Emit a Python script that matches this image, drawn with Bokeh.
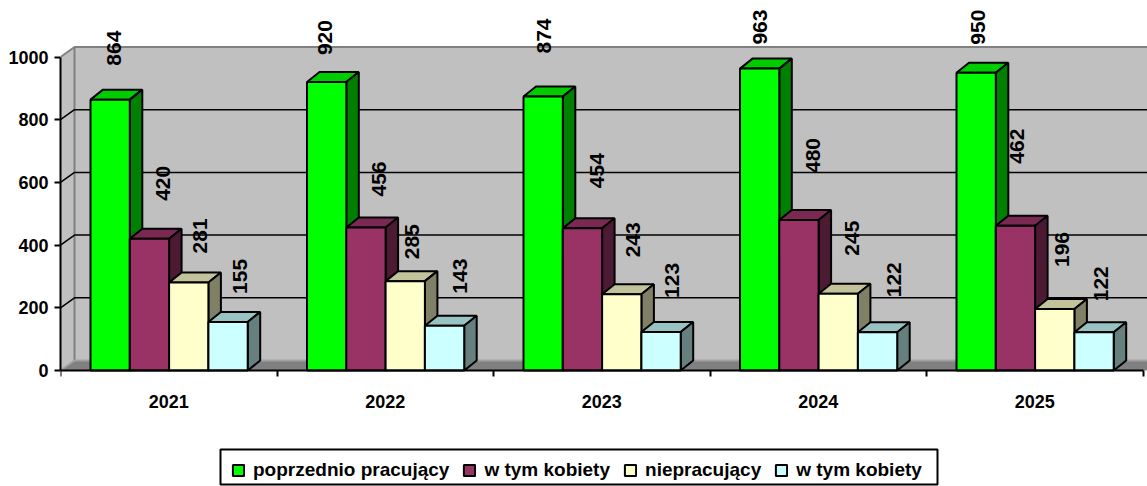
from bokeh.plotting import figure
from bokeh.models import Range1d, FixedTicker, Legend, LegendItem, ColumnDataSource
from bokeh.core.properties import value
from bokeh.embed import file_html
from bokeh.resources import INLINE
import math

years = ["2021", "2022", "2023", "2024", "2025"]
names = ["poprzednio pracujący", "w tym kobiety", "niepracujący", "w tym kobiety"]
poprzednio = [864, 920, 874, 963, 950]
kobiety_p = [420, 456, 454, 480, 462]
niepracujacy = [281, 285, 243, 245, 196]
kobiety_n = [155, 143, 123, 122, 122]
series = [poprzednio, kobiety_p, niepracujacy, kobiety_n]
yticks = [0, 200, 400, 600, 800, 1000]

fronts = ["#00FF00", "#993366", "#FFFFCC", "#CCFFFF"]
tops = ["#00CC00", "#7A2952", "#C2C29B", "#99C2C2"]
sides = ["#008000", "#4D1A33", "#808066", "#668080"]

# label nudges in screen pixels from each bar's top centre
label_dx = [[4, -1.5, 1, 0.5, 2], [14, 13.5, 15, 14.5, 2], [11, 6.5, 11, 13.5, 7], [12, 15.5, 11, 16.5, 7]]
label_gap = [[34, 27, 43, 24, 28], [38, 31, 40, 47, 62], [29, 22, 37, 38, 42], [28, 32, 34, 35, 31]]

PX_X = 216.5          # pixels per category
PX_Y = 0.3135         # pixels per value unit
WIDTH, HEIGHT = 1147, 486
LEFT, ZERO_Y = 60, 370
x_end = (WIDTH - LEFT) / PX_X
y_end = ZERO_Y / PX_Y
y_start = -(HEIGHT - ZERO_Y) / PX_Y

wall_dx, wall_dy = 14 / PX_X, 10 / PX_Y
bar_dx, bar_dy = 12.5 / PX_X, 10 / PX_Y
bar_w = 39.3 / PX_X
group_start = 30.0 / PX_X

p = figure(width=WIDTH, height=HEIGHT, output_backend="svg", toolbar_location=None,
           x_range=Range1d(0, x_end), y_range=Range1d(y_start, y_end),
           min_border_left=LEFT, min_border_right=0, min_border_top=0, min_border_bottom=0,
           outline_line_color=None, background_fill_color="white", border_fill_color="white")
p.grid.visible = False

# walls and floor
n = len(years)
p.patch([wall_dx, x_end, x_end, wall_dx],
        [wall_dy, wall_dy, yticks[-1] + wall_dy, yticks[-1] + wall_dy], fill_color="#C0C0C0", line_color=None)
p.patch([0, wall_dx, wall_dx, 0], [0, wall_dy, yticks[-1] + wall_dy, yticks[-1]], fill_color="#C0C0C0", line_color=None)
p.patch([0, wall_dx, x_end, x_end, n], [0, wall_dy, wall_dy, 0, 0], fill_color="#808080", line_color=None)
p.line([0, wall_dx, x_end], [yticks[-1], yticks[-1] + wall_dy, yticks[-1] + wall_dy], line_color="#808080", line_width=2)
p.line([wall_dx, wall_dx], [wall_dy, yticks[-1] + wall_dy], line_color="#808080", line_width=2)
p.line([0, wall_dx, x_end], [0, wall_dy, wall_dy], line_color="#A0A0A0", line_width=2)
mids = yticks[1:-1]
p.multi_line([[0, wall_dx, x_end] for _ in mids], [[v, v + wall_dy, v + wall_dy] for v in mids],
             line_color="black", line_width=1.5)

# bars
fronts_r = []
for s, vals in enumerate(series):
    lefts = [i + group_start + s * bar_w for i in range(n)]
    rights = [l + bar_w for l in lefts]
    p.patches([[l, r, r + bar_dx, l + bar_dx] for l, r in zip(lefts, rights)],
              [[v, v, v + bar_dy, v + bar_dy] for v in vals],
              fill_color=tops[s], line_color="black", line_width=2)
    p.patches([[r, r + bar_dx, r + bar_dx, r] for r in rights],
              [[0, bar_dy, v + bar_dy, v] for v in vals],
              fill_color=sides[s], line_color="black", line_width=2)
    fronts_r.append(p.quad(left=lefts, right=rights, bottom=0, top=vals,
                           fill_color=fronts[s], line_color="black", line_width=2))

# value labels
for s, vals in enumerate(series):
    src = ColumnDataSource(dict(
        x=[i + group_start + (s + 0.5) * bar_w for i in range(n)],
        y=vals,
        t=[str(v) for v in vals],
        dx=label_dx[s],
        dy=[-g for g in label_gap[s]],
    ))
    p.text(x="x", y="y", text="t", source=src, x_offset="dx", y_offset="dy", angle=math.pi / 2,
           text_align="left", text_baseline="middle", text_color="black",
           text_font=value("Liberation Sans"), text_font_style="bold", text_font_size="21px")

# axes
yax = p.yaxis[0]
yax.ticker = FixedTicker(ticks=yticks)
yax.bounds = (0, 1000)
yax.axis_line_color = "black"
yax.axis_line_width = 2
yax.major_tick_line_color = "black"
yax.major_tick_line_width = 2
yax.major_tick_in = 0
yax.major_tick_out = 6
yax.minor_tick_line_color = None
yax.major_label_standoff = 6
yax.major_label_text_font = "Liberation Sans"
yax.major_label_text_font_style = "bold"
yax.major_label_text_font_size = "18px"
yax.major_label_text_color = "black"

xax = p.xaxis[0]
xax.fixed_location = 0
centers = [i + 0.5 for i in range(n)]
xax.ticker = FixedTicker(ticks=centers, minor_ticks=list(range(n + 1)))
xax.major_label_overrides = {c: y for c, y in zip(centers, years)}
xax.bounds = (0, n)
xax.axis_line_color = "black"
xax.axis_line_width = 2
xax.major_tick_line_color = None
xax.major_tick_in = 0
xax.major_tick_out = 0
xax.minor_tick_line_color = "black"
xax.minor_tick_line_width = 2
xax.minor_tick_in = 0
xax.minor_tick_out = 6
xax.major_label_standoff = 18
xax.major_label_text_font = "Liberation Sans"
xax.major_label_text_font_style = "bold"
xax.major_label_text_font_size = "18px"
xax.major_label_text_color = "black"

# legend: its frame, then the entries
to_x = lambda px: (px - LEFT) / PX_X
to_y = lambda px: (ZERO_Y - px) / PX_Y
p.quad(left=[to_x(220)], right=[to_x(937)], bottom=[to_y(484)], top=[to_y(449)],
       fill_color="white", line_color="black", line_width=2)
legend = Legend(items=[LegendItem(label=nm, renderers=[r]) for nm, r in zip(names, fronts_r)],
                orientation="horizontal", location=(171, 5), margin=0, padding=0,
                glyph_width=14, glyph_height=14, label_standoff=8, spacing=13,
                border_line_color=None, background_fill_alpha=0, label_text_font="Liberation Sans",
                label_text_font_style="bold", label_text_font_size="19px", label_text_color="black")
p.add_layout(legend, "center")

open("out.html", "w").write(file_html(p, INLINE))
